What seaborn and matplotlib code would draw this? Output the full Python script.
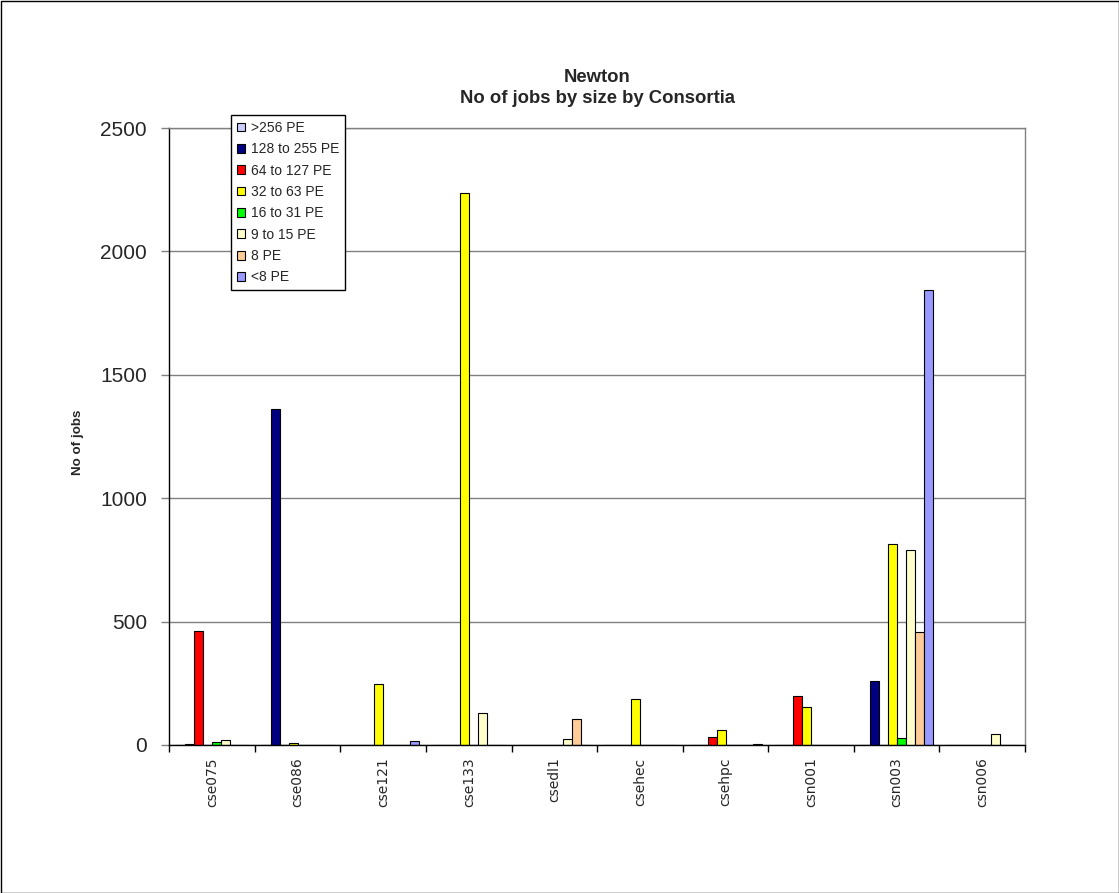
import matplotlib
matplotlib.use("Agg")
import matplotlib.pyplot as plt
import seaborn as sns
import pandas as pd
from matplotlib.patches import Rectangle

# Consortia along the x axis
consortia = ["cse075", "cse086", "cse121", "cse133", "csedl1",
             "csehec", "csehpc", "csn001", "csn003", "csn006"]

# Job size bands (series), in drawing order
sizes = [">256 PE", "128 to 255 PE", "64 to 127 PE", "32 to 63 PE",
         "16 to 31 PE", "9 to 15 PE", "8 PE", "<8 PE"]

# Number of jobs per consortium for each size band
pe_over_256 = [0, 0, 0, 0, 0, 0, 0, 0, 0, 0]
pe_128_255 = [5, 1360, 0, 0, 0, 0, 0, 0, 259, 0]
pe_64_127 = [462, 0, 0, 0, 0, 0, 32, 199, 0, 0]
pe_32_63 = [0, 8, 247, 2235, 0, 185, 60, 155, 814, 0]
pe_16_31 = [12, 0, 2, 0, 2, 2, 0, 0, 30, 0]
pe_9_15 = [21, 0, 0, 128, 24, 0, 0, 0, 790, 45]
pe_8 = [0, 0, 0, 0, 104, 0, 0, 0, 457, 0]
pe_under_8 = [0, 0, 17, 0, 0, 0, 3, 0, 1843, 0]

series = [pe_over_256, pe_128_255, pe_64_127, pe_32_63,
          pe_16_31, pe_9_15, pe_8, pe_under_8]

colors = ["#CCCCFF", "#000080", "#FF0000", "#FFFF00",
          "#00FF00", "#FFFFCC", "#FFCC99", "#9999FF"]

y_ticks = [0, 500, 1000, 1500, 2000, 2500]

rows = []
for size, values in zip(sizes, series):
    for cons, v in zip(consortia, values):
        rows.append({"consortium": cons, "size": size, "jobs": v})
df = pd.DataFrame(rows)

sns.set_style("white")
plt.rcParams["font.family"] = ["Liberation Sans", "DejaVu Sans"]

W, H = 1119, 893
fig = plt.figure(figsize=(W / 100, H / 100), dpi=100)
ax = fig.add_axes([169.3 / W, 1 - 745 / H, (1025 - 169.3) / W, (745 - 128) / H])

sns.barplot(data=df, x="consortium", y="jobs", hue="size",
            order=consortia, hue_order=sizes,
            palette=dict(zip(sizes, colors)), saturation=1,
            width=0.8415, gap=0, errorbar=None,
            edgecolor="black", linewidth=0.8, ax=ax)

# Axis ranges and grid
ax.set_xlim(-0.5, len(consortia) - 0.5)
ax.set_ylim(0, 2500)
ax.set_yticks(y_ticks)
ax.set_yticklabels([str(t) for t in y_ticks], fontsize=15)
ax.yaxis.grid(True, color="#808080", linewidth=1.0)
ax.set_axisbelow(True)
ax.tick_params(axis="y", which="major", length=6, width=1, color="#808080",
               left=True, pad=10)

# Category labels at centres, tick marks at group boundaries
ax.set_xticks(range(len(consortia)))
ax.set_xticklabels(consortia, rotation=90, fontsize=10,
                   family="DejaVu Sans", va="top")
ax.tick_params(axis="x", which="major", length=0, pad=9)
ax.set_xticks([i - 0.5 for i in range(len(consortia) + 1)], minor=True)
ax.tick_params(axis="x", which="minor", length=5, width=1, color="black",
               bottom=True)
ax.set_xlabel("")

ax.set_ylabel("No of jobs", fontsize=9.6, fontweight="bold")
ax.yaxis.label.set_va("center")
ax.yaxis.set_label_coords((78 - 169.3) / (1025 - 169.3), (745 - 442) / (745 - 128))

for side in ["left", "bottom"]:
    ax.spines[side].set_color("black")
    ax.spines[side].set_linewidth(1.0)
for side in ["right", "top"]:
    ax.spines[side].set_color("#808080")
    ax.spines[side].set_linewidth(1.0)

# Legend inside the upper-left part of the plot
handles, labels = ax.get_legend_handles_labels()
ax.get_legend().remove()
leg = fig.legend(handles, labels, loc="upper left",
                 bbox_to_anchor=(231 / W, 1 - 115 / H), bbox_transform=fig.transFigure,
                 frameon=True, fancybox=False, edgecolor="black", framealpha=1,
                 fontsize=10, handlelength=0.6, handleheight=0.6,
                 handletextpad=0.4, labelspacing=0.53, borderpad=0.42,
                 borderaxespad=0)
leg.get_frame().set_linewidth(1.0)
for p in leg.get_patches():
    p.set_edgecolor("black")
    p.set_linewidth(0.8)

fig.suptitle("Newton\nNo of jobs by size by Consortia", x=597 / W, y=1 - 88 / H,
             va="center", ha="center", fontsize=13.3, fontweight="bold",
             linespacing=1.25)

# Thin frame around the whole chart
fig.patches.append(Rectangle((0.5 / W, 0.5 / H), 1 - 1 / W, 1 - 1 / H,
                             transform=fig.transFigure, fill=False,
                             edgecolor="black", linewidth=1.0))

fig.savefig("out.png", dpi=100)
